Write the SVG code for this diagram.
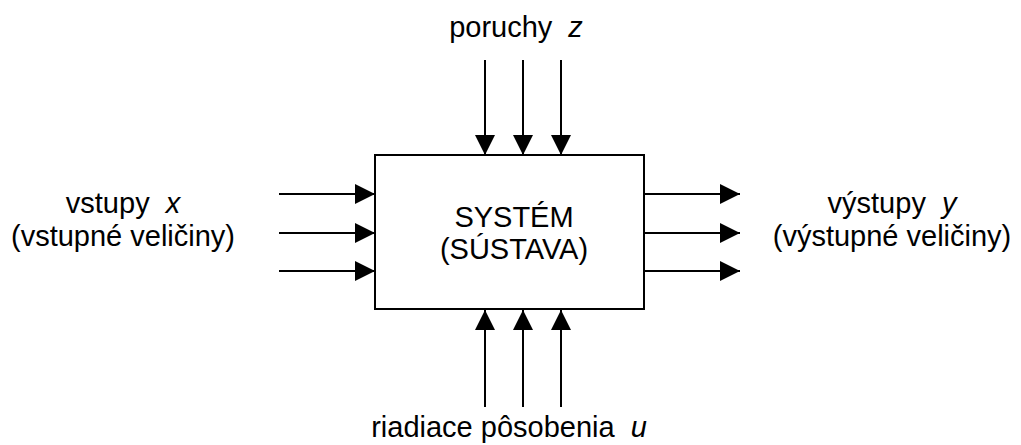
<svg xmlns="http://www.w3.org/2000/svg" width="1021" height="445" viewBox="0 0 1021 445">
<style>
text{font-family:"Liberation Sans",Arial,sans-serif;font-size:29px;fill:#000;text-anchor:middle}
.v{font-style:italic}
.box{fill:#fff;stroke:#000;stroke-width:2}
.c{stroke:#000;stroke-width:2;fill:none;marker-end:url(#ah)}
</style>
<defs>
<marker id="ah" markerUnits="userSpaceOnUse" markerWidth="20" markerHeight="20" refX="20" refY="10" orient="auto">
<path d="M0,0 L20,10 L0,20 z" fill="#000"/>
</marker>
</defs>
<g id="system">
<rect class="box" x="375" y="155" width="269" height="154"/>
<text x="514" y="227">SYSTÉM</text>
<text x="514" y="259">(SÚSTAVA)</text>
</g>
<g id="inputs-label">
<text x="123" y="213">vstupy <tspan class="v" dx="8">x</tspan></text>
<text x="123" y="246">(vstupné veličiny)</text>
</g>
<g id="outputs-label">
<text x="892" y="213">výstupy <tspan class="v" dx="8">y</tspan></text>
<text x="892" y="246">(výstupné veličiny)</text>
</g>
<g id="disturbances-label">
<text x="516" y="37">poruchy <tspan class="v" dx="8">z</tspan></text>
</g>
<g id="control-label">
<text x="509" y="437">riadiace pôsobenia <tspan class="v" dx="8">u</tspan></text>
</g>
<g id="connectors">
<line class="c" x1="485" y1="60" x2="485" y2="155"/>
<line class="c" x1="523" y1="60" x2="523" y2="155"/>
<line class="c" x1="561" y1="60" x2="561" y2="155"/>
<line class="c" x1="279" y1="194" x2="375" y2="194"/>
<line class="c" x1="279" y1="233" x2="375" y2="233"/>
<line class="c" x1="279" y1="271" x2="375" y2="271"/>
<line class="c" x1="644" y1="194" x2="740" y2="194"/>
<line class="c" x1="644" y1="233" x2="740" y2="233"/>
<line class="c" x1="644" y1="271" x2="740" y2="271"/>
<line class="c" x1="485" y1="407" x2="485" y2="310"/>
<line class="c" x1="523" y1="407" x2="523" y2="310"/>
<line class="c" x1="561" y1="407" x2="561" y2="310"/>
</g>
</svg>
